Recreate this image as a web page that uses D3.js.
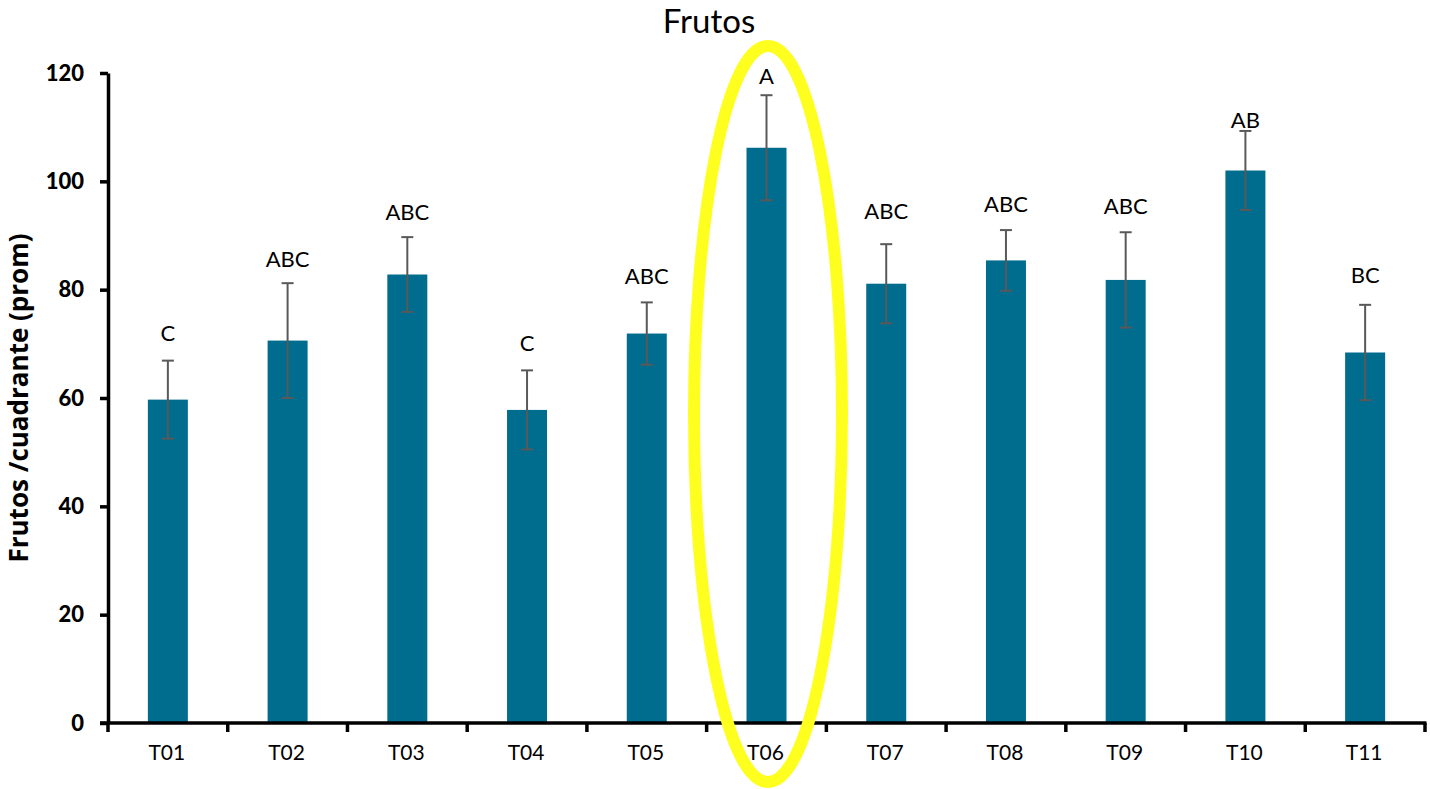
<!DOCTYPE html>
<html>
<head>
<meta charset="utf-8">
<script src="https://cdn.jsdelivr.net/npm/d3@7"></script>
<style>
  html, body { margin: 0; padding: 0; background: #ffffff; }
  svg { display: block; }
</style>
</head>
<body>
<svg id="chart" width="1430" height="789"></svg>
<script>
// ---- data ----
const categories = ["T01","T02","T03","T04","T05","T06","T07","T08","T09","T10","T11"];
const means      = [59.7, 70.6, 82.8, 57.8, 71.9, 106.2, 81.1, 85.4, 81.8, 102.0, 68.4];
const errors     = [7.2, 10.6, 6.9, 7.3, 5.75, 9.7, 7.3, 5.6, 8.8, 7.3, 8.8];
const letters    = ["C","ABC","ABC","C","ABC","A","ABC","ABC","ABC","AB","BC"];
const letterAt   = [70.6, 84.1, 92.8, 68.6, 81.1, 117.9, 93.1, 94.4, 93.9, 109.9, 81.2];
const yTicks     = [0, 20, 40, 60, 80, 100, 120];
const highlighted = "T06";
const titleText  = "Frutos";
const yLabelText = "Frutos /cuadrante (prom)";

(function () {
// ---- layout ----
const svg = d3.select("#chart");
const font = "Lato, 'Open Sans', sans-serif";
const mLeft = 108, mRight = 1425, mTop = 73, mBottom = 723;

const x = d3.scaleBand().domain(categories).range([mLeft, mRight])
  .paddingInner(0.666).paddingOuter(0.333);
const y = d3.scaleLinear().domain([0, 120]).range([mBottom, mTop]);

const data = categories.map((c, i) => ({ c, m: means[i], e: errors[i], l: letters[i], la: letterAt[i] }));

// bars
svg.append("g").selectAll("rect").data(data).join("rect")
  .attr("x", d => x(d.c))
  .attr("y", d => y(d.m))
  .attr("width", x.bandwidth())
  .attr("height", d => y(0) - y(d.m))
  .attr("fill", "#006c8e");

// error bars
const eg = svg.append("g").attr("stroke", "#595959").attr("stroke-width", 2);
const cx = d => x(d.c) + x.bandwidth() / 2;
eg.selectAll("line.v").data(data).join("line").attr("class", "v")
  .attr("x1", cx).attr("x2", cx)
  .attr("y1", d => y(d.m + d.e)).attr("y2", d => y(d.m - d.e));
eg.selectAll("line.t").data(data).join("line").attr("class", "t")
  .attr("x1", d => cx(d) - 6).attr("x2", d => cx(d) + 6)
  .attr("y1", d => y(d.m + d.e)).attr("y2", d => y(d.m + d.e));
eg.selectAll("line.b").data(data).join("line").attr("class", "b")
  .attr("x1", d => cx(d) - 6).attr("x2", d => cx(d) + 6)
  .attr("y1", d => y(d.m - d.e)).attr("y2", d => y(d.m - d.e));

// significance letters
svg.append("g").selectAll("text").data(data).join("text")
  .attr("x", cx)
  .attr("y", d => y(d.la))
  .attr("text-anchor", "middle")
  .attr("font-family", font)
  .attr("font-size", 22)
  .attr("fill", "#000")
  .text(d => d.l);

// y axis
const yAxis = d3.axisLeft(y).tickValues(yTicks).tickSize(8).tickPadding(16).tickSizeOuter(0);
const gy = svg.append("g").attr("transform", `translate(${mLeft},0)`).call(yAxis);
gy.select(".domain").attr("stroke", "#000").attr("stroke-width", 3.5);
gy.selectAll(".tick line").attr("stroke", "#000").attr("stroke-width", 3.5);
gy.selectAll(".tick text").attr("font-family", font).attr("font-size", 22)
  .attr("font-weight", "900").attr("fill", "#000");

// x axis
const gx = svg.append("g").attr("transform", `translate(0,${mBottom})`);
gx.append("line").attr("x1", mLeft - 8).attr("x2", mRight + 1.5).attr("y1", 0).attr("y2", 0)
  .attr("stroke", "#000").attr("stroke-width", 3.5);
const boundaries = categories.map(c => x(c) + x.bandwidth() / 2 - x.step() / 2)
  .concat([x(categories[categories.length - 1]) + x.bandwidth() / 2 + x.step() / 2]);
gx.selectAll("line.tk").data(boundaries).join("line").attr("class", "tk")
  .attr("x1", d => d).attr("x2", d => d).attr("y1", 0).attr("y2", 9)
  .attr("stroke", "#000").attr("stroke-width", 3.5);
gx.selectAll("text").data(categories).join("text")
  .attr("x", c => x(c) + x.bandwidth() / 2 - 1)
  .attr("y", 37)
  .attr("text-anchor", "middle")
  .attr("font-family", font).attr("font-size", 21).attr("fill", "#000")
  .text(c => c);

// title
svg.append("text").attr("x", 709).attr("y", 33)
  .attr("text-anchor", "middle").attr("font-family", font).attr("font-size", 33)
  .attr("fill", "#000").text(titleText);

// y label
svg.append("text")
  .attr("transform", `translate(28,${(mTop + mBottom) / 2}) rotate(-90)`)
  .attr("text-anchor", "middle").attr("font-family", "'Open Sans', Lato, sans-serif").attr("font-size", 26)
  .attr("font-weight", "bold").attr("fill", "#000").text(yLabelText);

// highlight ellipse around T06
svg.append("ellipse")
  .attr("cx", x(highlighted) + x.bandwidth() / 2 + 1.5)
  .attr("cy", 414)
  .attr("rx", 74)
  .attr("ry", 368)
  .attr("fill", "none")
  .attr("stroke", "#ffff1f")
  .attr("stroke-width", 12);
})();
</script>
</body>
</html>
